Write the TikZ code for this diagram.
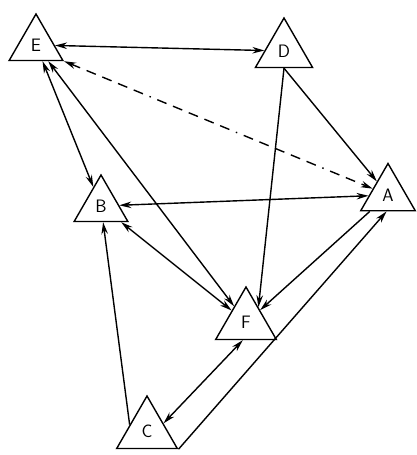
\documentclass[tikz,border=0pt]{standalone}
\usetikzlibrary{shapes.geometric,arrows.meta}

\begin{document}
\begin{tikzpicture}[x=1pt,y=1pt,>={Stealth[length=12pt,width=6.5pt]},line width=1.4pt,
tri/.style={draw,regular polygon,regular polygon sides=3,inner sep=0pt,minimum size=62pt,fill=white,font=\fontsize{18}{18}\selectfont\sffamily},
dashdot/.style={dash pattern=on 10pt off 7pt on 10pt off 7pt on 10pt off 7pt on 10pt off 7pt on 10pt off 7pt on 1.5pt off 7pt}]
\useasboundingbox (0,0) rectangle (416,-455);
\node[tri] (E) at (36,-45) {E};
\node[tri,minimum size=66pt] (D) at (284,-51) {D};
\node[tri,minimum size=63pt] (A) at (388,-195) {A};
\node[tri] (B) at (101,-206) {B};
\node[tri,minimum size=70pt] (F) at (246,-322) {F};
\node[tri,minimum size=70pt] (C) at (147,-431) {C};
\draw[<->] (E) -- (D);
\draw[<->,dashdot] (E.corner 3) -- (A);
\draw[<->] (E) -- (B);
\draw[<->] (E) -- (F);
\draw[->] (D.south) -- (A);
\draw[->] (D.south) -- (F.50);
\draw[<->] (B) -- (A);
\draw[<->] (B) -- (F);
\draw[->] (A) -- (F.40);
\draw[->] (C.160) -- (B);
\draw[<->] (C.25) -- (F.-100);
\draw[->] (C.corner 3) -- (A.-95);
\end{tikzpicture}
\end{document}
